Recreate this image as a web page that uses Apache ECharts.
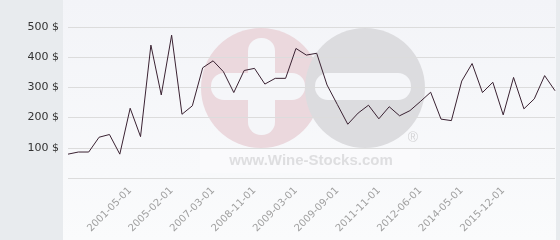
<!DOCTYPE html>
<html>
<head>
<meta charset="utf-8">
<style>html,body{margin:0;padding:0;}#c{width:560px;height:240px;}</style>
<script src="https://cdn.jsdelivr.net/npm/echarts@6/dist/echarts.min.js"></script>
</head>
<body>
<div id="c"></div>
<script>
var categories = ['1999-03-01','1999-09-01','2000-01-01','2000-05-01','2000-09-01','2001-01-01','2001-05-01','2002-03-01','2003-01-01','2004-03-01',
  '2005-02-01','2005-08-01','2006-02-01','2006-09-01','2007-03-01','2007-09-01','2008-02-01','2008-07-01','2008-11-01','2008-12-01',
  '2009-01-01','2009-02-01','2009-03-01','2009-05-01','2009-06-01','2009-08-01','2009-09-01','2010-03-01','2010-09-01','2011-04-01',
  '2011-11-01','2012-01-01','2012-03-01','2012-04-01','2012-06-01','2012-12-01','2013-05-01','2013-11-01','2014-05-01','2014-10-01',
  '2015-02-01','2015-07-01','2015-12-01','2016-05-01','2016-10-01','2017-03-01','2017-08-01','2018-01-01'];
var prices = [79,86,86,135,144,79,231,137,440,275,
  473,211,239,365,388,352,283,356,363,311,
  330,330,429,407,413,308,243,178,215,241,
  196,236,206,223,253,284,195,190,321,379,
  283,317,209,333,229,262,339,289];
var yTicks = [0,100,200,300,400,500];
var shownLabels = ['2001-05-01','2005-02-01','2007-03-01','2008-11-01','2009-03-01','2009-09-01','2011-11-01','2012-06-01','2014-05-01','2015-12-01'];

var chart = echarts.init(document.getElementById('c'), null, {renderer:'canvas'});
chart.setOption({
  backgroundColor: '#e8ebee',
  animation: false,
  graphic: [
    {type:'rect', z:-10, shape:{x:63,y:0,width:493,height:240},
     style:{fill:new echarts.graphic.LinearGradient(0,0,0,1,[{offset:0,color:'#f3f4f8'},{offset:1,color:'#fafbfc'}])}},
    {type:'rect', z:-9, shape:{x:200,y:148,width:220,height:25}, style:{fill:'#fafafc'}},
    {type:'circle', z:-8, shape:{cx:261,cy:88,r:60}, style:{fill:'#ebd8dd'}},
    {type:'rect', z:-7, shape:{x:248,y:38,width:27,height:97,r:13}, style:{fill:'#f5f6f9'}},
    {type:'rect', z:-7, shape:{x:211,y:73,width:94,height:27,r:13}, style:{fill:'#f5f6f9'}},
    {type:'circle', z:-6, shape:{cx:365,cy:88,r:60}, style:{fill:'#dcdcdf'}},
    {type:'rect', z:-5, shape:{x:315,y:73,width:96,height:27,r:13}, style:{fill:'#f5f6f9'}},
    {type:'text', z:-5, style:{x:413,y:138,text:'®',fill:'#d4d4d6',font:'14px "Liberation Sans"',align:'center',verticalAlign:'middle'}},
    {type:'text', z:-5, style:{x:311,y:161,text:'www.Wine-Stocks.com',fill:'#dedee0',font:'bold 15px "Liberation Sans"',align:'center',verticalAlign:'middle'}}
  ],
  grid: {left:68, right:5, top:27, bottom:62, containLabel:false},
  xAxis: {
    type:'category', data:categories, boundaryGap:false,
    axisLine:{show:false}, axisTick:{show:false},
    axisLabel:{
      rotate:45, color:'#a0a0a0', fontSize:10, fontFamily:'DejaVu Sans', margin:11,
      interval:function(i, v){ return shownLabels.indexOf(v) >= 0; }
    },
    splitLine:{show:false}
  },
  yAxis: {
    type:'value', min:yTicks[0], max:yTicks[yTicks.length-1], interval:100,
    axisLine:{show:false}, axisTick:{show:false},
    axisLabel:{color:'#333', fontSize:11, fontFamily:'DejaVu Sans', margin:9,
      formatter:function(v){ return v === 0 ? '' : v + ' $'; }},
    splitLine:{show:true, lineStyle:{color:'#dcdcdc', width:1}}
  },
  series: [{
    type:'line', data:prices, symbol:'none', smooth:false,
    lineStyle:{color:'#3a2232', width:1}
  }]
});
</script>
</body>
</html>
